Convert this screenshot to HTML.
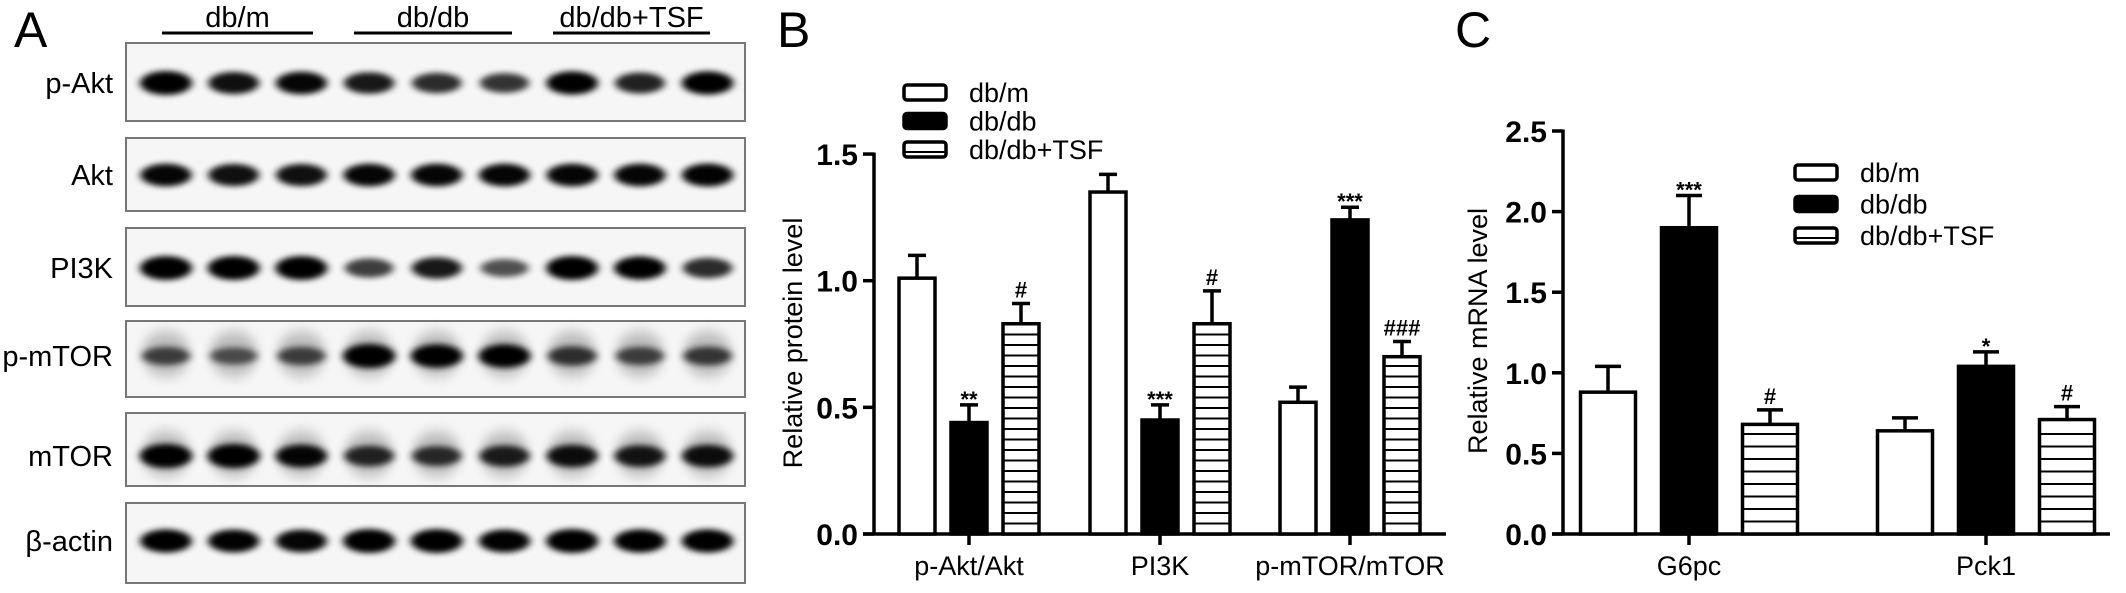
<!DOCTYPE html>
<html><head><meta charset="utf-8">
<style>
html,body{margin:0;padding:0;background:#fff;}
svg{display:block;font-family:"Liberation Sans",Arial,sans-serif;}
</style></head>
<body>
<svg id="fig" width="2126" height="593" viewBox="0 0 2126 593" xmlns="http://www.w3.org/2000/svg">
<defs>
<filter id="blur" x="-30%" y="-100%" width="160%" height="300%"><feGaussianBlur stdDeviation="4 3"/></filter>
<filter id="blur2" x="-30%" y="-100%" width="160%" height="300%"><feGaussianBlur stdDeviation="5 7"/></filter>
</defs>
<g id="panelA"></g>
<g id="panelB"></g>
<g id="panelC"></g>
</svg>
<script>
// ---------- Panel B data ----------
const bCategories = ["p-Akt/Akt", "PI3K", "p-mTOR/mTOR"];
const bDbm   = [1.01, 1.35, 0.52];
const bDbmErr= [0.09, 0.07, 0.06];
const bDbdb  = [0.44, 0.45, 1.24];
const bDbdbErr=[0.07, 0.06, 0.05];
const bTsf   = [0.83, 0.83, 0.70];
const bTsfErr= [0.08, 0.13, 0.06];
const bDbdbMarks = ["**", "***", "***"];
const bTsfMarks  = ["#", "#", "###"];
const bTicks = [0.0, 0.5, 1.0, 1.5];
const bTickLabels = ["0.0", "0.5", "1.0", "1.5"];
// ---------- Panel C data ----------
const cCategories = ["G6pc", "Pck1"];
const cDbm   = [0.88, 0.64];
const cDbmErr= [0.16, 0.08];
const cDbdb  = [1.90, 1.04];
const cDbdbErr=[0.20, 0.09];
const cTsf   = [0.68, 0.71];
const cTsfErr= [0.09, 0.08];
const cDbdbMarks = ["***", "*"];
const cTsfMarks  = ["#", "#"];
const cTicks = [0.0, 0.5, 1.0, 1.5, 2.0, 2.5];
const cTickLabels = ["0.0", "0.5", "1.0", "1.5", "2.0", "2.5"];
const legendLabels = ["db/m", "db/db", "db/db+TSF"];
// ---------- Panel A data ----------
const blotRows = ["p-Akt", "Akt", "PI3K", "p-mTOR", "mTOR", "β-actin"];
const blotIntensity = [
  [1.0,0.85,0.9, 0.8,0.7,0.65, 0.95,0.75,0.95],
  [0.9,0.85,0.85, 0.9,0.9,0.9, 0.9,0.9,0.92],
  [1.0,1.0,1.0, 0.6,0.8,0.5, 1.0,0.95,0.7],
  [0.5,0.4,0.5, 1.0,0.95,0.95, 0.6,0.5,0.55],
  [1.0,1.0,0.9, 0.7,0.65,0.75, 0.85,0.8,0.85],
  [0.95,0.92,0.9, 1.0,1.0,0.92, 1.0,0.95,0.95]
];
const groupLabels = ["db/m", "db/db", "db/db+TSF"];

const NS = "http://www.w3.org/2000/svg";
function mk(parent, tag, attrs, text){
  const e = document.createElementNS(NS, tag);
  for (const k in attrs) e.setAttribute(k, attrs[k]);
  if (text !== undefined) e.textContent = text;
  parent.appendChild(e);
  return e;
}

// ================= Panel A =================
(function(){
  const g = document.getElementById("panelA");
  const letter = mk(g, "text", {x:14, y:47, "font-size":50}, "A");
  
  
  const boxX = 126, boxW = 619;
  const boxes = [[43,78],[138,73],[228,78],[321,76],[413,73],[503,80]];
  const bandY = [83,175,268,356,456,541];
  const lane0 = 166, laneStep = 67.7;
  const underlines = [[162,313],[354,512],[553,710]];
  underlines.forEach((u,i)=>{
    const l = mk(g, "line", {x1:u[0], x2:u[1], y1:33, y2:33, stroke:"#000", "stroke-width":3});
    
    
    const t = mk(g, "text", {x:(u[0]+u[1])/2, y:27, "font-size":29, "text-anchor":"middle"}, groupLabels[i]);
    
    
  });
  blotRows.forEach((name, r)=>{
    const rect = mk(g, "rect", {x:boxX, y:boxes[r][0], width:boxW, height:boxes[r][1], fill:"#f6f6f6", stroke:"#777", "stroke-width":2});
    
    
    const lab = mk(g, "text", {x:113, y:bandY[r]+10, "font-size":29, "text-anchor":"end"}, name);
    
    
    blotIntensity[r].forEach((v, i)=>{
      const cx = lane0 + i*laneStep;
      const diffuse = (r===3 || r===4);
      if (diffuse){
        const halo = mk(g, "ellipse", {cx:cx, cy:bandY[r]-2, rx:24, ry:22, fill:"#000", opacity:0.25, filter:"url(#blur2)"});
        
        
      }
      const band = mk(g, "ellipse", {cx:cx, cy:bandY[r], rx:22+4*v, ry:6+6*v, fill:"#000", opacity:Math.min(1,0.3+0.75*v), filter:"url(#blur)"});
      
      
    });
  });
})();

// ================= bar chart helper =================
function drawChart(cfg){
  const g = document.getElementById(cfg.id);
  const yScale = v => cfg.y0 - v*cfg.pxPerUnit;
  const L = mk(g, "text", {x:cfg.letterX, y:47, "font-size":50}, cfg.letter);
  
  
  const ya = mk(g, "line", {x1:cfg.axisX, x2:cfg.axisX, y1:yScale(cfg.ticks[cfg.ticks.length-1])-1.5, y2:cfg.y0+1.5, stroke:"#000", "stroke-width":3.5});
  
  
  const xa = mk(g, "line", {x1:cfg.axisX-11, x2:cfg.axisEnd, y1:cfg.y0, y2:cfg.y0, stroke:"#000", "stroke-width":3.5});
  
  
  cfg.ticks.forEach((t,i)=>{
    const y = yScale(t);
    const tl = mk(g, "line", {x1:cfg.axisX-11, x2:cfg.axisX, y1:y, y2:y, stroke:"#000", "stroke-width":3.5});
    
    
    const tx = mk(g, "text", {x:cfg.axisX-16, y:y+11, "font-size":30, "font-weight":"bold", "text-anchor":"end"}, cfg.tickLabels[i]);
    
    
  });
  const title = mk(g, "text", {x:0, y:0, "font-size":27, "text-anchor":"middle", transform:`translate(${cfg.titleX},${cfg.titleY}) rotate(-90)`}, cfg.title);
  
  

  const series = [cfg.dbm, cfg.dbdb, cfg.tsf];
  const errs = [cfg.dbmErr, cfg.dbdbErr, cfg.tsfErr];
  const marks = [null, cfg.dbdbMarks, cfg.tsfMarks];
  cfg.categories.forEach((cat, ci)=>{
    const c = cfg.centers[ci];
    const tk = mk(g, "line", {x1:c, x2:c, y1:cfg.y0, y2:cfg.y0+11, stroke:"#000", "stroke-width":3.5});
    
    
    const xl = mk(g, "text", {x:c, y:cfg.y0+41, "font-size":27, "text-anchor":"middle"}, cat);
    
    
    series.forEach((arr, si)=>{
      const v = arr[ci], e = errs[si][ci];
      const bx = c + (si-1)*cfg.step - cfg.bw/2;
      const top = yScale(v), etop = yScale(v+e);
      const bcx = bx + cfg.bw/2;
      const el = mk(g, "line", {x1:bcx, x2:bcx, y1:top, y2:etop, stroke:"#000", "stroke-width":3.5});
      
      
      const ec = mk(g, "line", {x1:bcx-cfg.cap, x2:bcx+cfg.cap, y1:etop, y2:etop, stroke:"#000", "stroke-width":3.5});
      
      
      const bar = mk(g, "rect", {x:bx, y:top, width:cfg.bw, height:cfg.y0-top, fill: si===1?"#000":"#fff", stroke:"#000", "stroke-width":3.5});
      
      
      if (si===2){
        for (let yy = cfg.y0 - cfg.stripe; yy > top + 3; yy -= cfg.stripe){
          const s = mk(g, "line", {x1:bx, x2:bx+cfg.bw, y1:yy, y2:yy, stroke:"#000", "stroke-width":2});
          
          
        }
      }
      if (marks[si]){
        const isStar = marks[si][ci].indexOf('*')>=0;
        const m = mk(g, "text", {x:bcx, y: isStar ? etop+2 : etop-6, "font-size":isStar?22:22, "font-weight":"bold", "text-anchor":"middle"}, marks[si][ci]);
        
        
      }
    });
  });
  legendLabels.forEach((lab, i)=>{
    const y = cfg.legY + i*cfg.legStep;
    const r = mk(g, "rect", {x:cfg.legX, y:y, width:42, height:15, rx:3, fill: i===1?"#000":"#fff", stroke:"#000", "stroke-width":3.5});
    
    
    if (i===2){
      const s = mk(g, "line", {x1:cfg.legX, x2:cfg.legX+42, y1:y+10, y2:y+10, stroke:"#000", "stroke-width":2});
      
      
    }
    const t = mk(g, "text", {x:cfg.legX+65, y:y+17, "font-size":27}, lab);
    
    
  });
}

drawChart({id:"panelB", letter:"B", letterX:777, axisX:874, axisEnd:1446, y0:534, pxPerUnit:253.3,
  ticks:bTicks, tickLabels:bTickLabels, title:"Relative protein level", titleX:802, titleY:343,
  categories:bCategories, centers:[969,1160,1350], step:52, bw:36, cap:9, stripe:10.5,
  dbm:bDbm, dbmErr:bDbmErr, dbdb:bDbdb, dbdbErr:bDbdbErr, tsf:bTsf, tsfErr:bTsfErr,
  dbdbMarks:bDbdbMarks, tsfMarks:bTsfMarks, legX:904, legY:85, legStep:28.5});

drawChart({id:"panelC", letter:"C", letterX:1455, axisX:1563, axisEnd:2110, y0:534, pxPerUnit:161.2,
  ticks:cTicks, tickLabels:cTickLabels, title:"Relative mRNA level", titleX:1487, titleY:331,
  categories:cCategories, centers:[1689,1986], step:81, bw:55, cap:13, stripe:12.5,
  dbm:cDbm, dbmErr:cDbmErr, dbdb:cDbdb, dbdbErr:cDbdbErr, tsf:cTsf, tsfErr:cTsfErr,
  dbdbMarks:cDbdbMarks, tsfMarks:cTsfMarks, legX:1795, legY:165, legStep:31.5});
</script>
</body></html>
